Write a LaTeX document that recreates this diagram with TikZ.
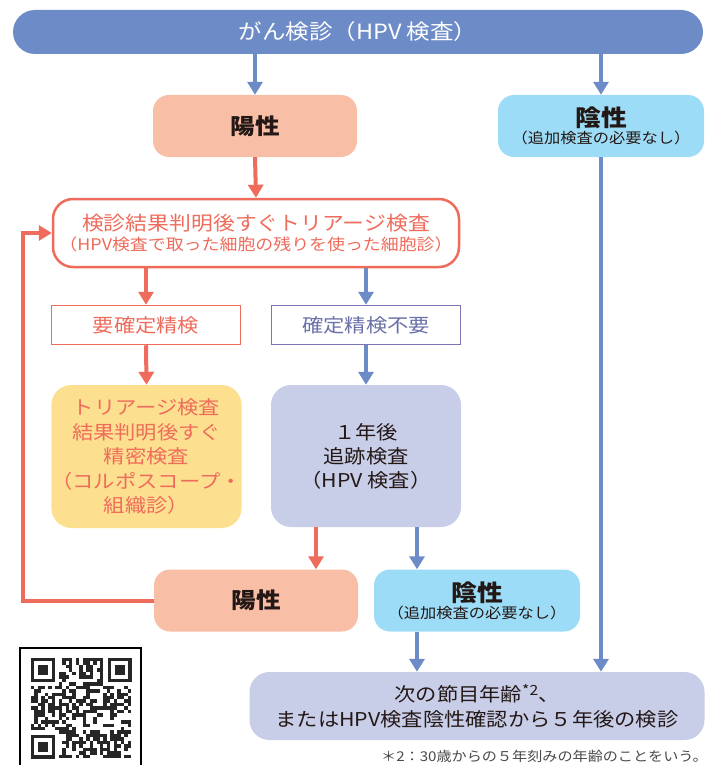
\documentclass[tikz,border=0pt]{standalone}
\usepackage{fontspec}
\setmainfont{Noto Sans CJK JP}[FakeStretch=1.12]
\usetikzlibrary{arrows.meta,calc}
\definecolor{cblue}{HTML}{6D8BC6}
\definecolor{cred}{HTML}{EF6B5B}
\definecolor{csalmon}{HTML}{F8BFA6}
\definecolor{ccyan}{HTML}{9DDCF6}
\definecolor{cyellow}{HTML}{FDE08F}
\definecolor{clav}{HTML}{C8CDE8}
\definecolor{cpurple}{HTML}{7D74B8}
\definecolor{cptext}{HTML}{6A70A8}
\definecolor{ctext}{HTML}{231815}
\definecolor{cnote}{HTML}{4A4A4A}
\newcommand{\fs}[2]{\fontsize{#1}{#2}\selectfont}
\begin{document}
\begin{tikzpicture}[x=1pt,y=-1pt,
  box/.style={align=center, inner sep=0pt, text=ctext},
  bar/.style={box, fill=cblue, rounded corners=22pt, minimum width=690pt, minimum height=44pt, text=white, font=\fs{21}{24}},
  posbox/.style={box, fill=csalmon, rounded corners=16pt, minimum width=204pt, minimum height=62pt, font=\fs{22}{24}\bfseries},
  negbox/.style={box, fill=ccyan, rounded corners=16pt, minimum width=206pt, minimum height=62pt},
  triagebox/.style={box, draw=cred, line width=2.5pt, fill=white, rounded corners=20pt, minimum width=406pt, minimum height=68pt, text=cred},
  redsq/.style={box, draw=cred, line width=1.5pt, fill=white, minimum width=189pt, minimum height=39pt, text=cred, font=\fs{19}{22}},
  bluesq/.style={box, draw=cpurple, line width=1.5pt, fill=white, minimum width=189pt, minimum height=39pt, text=cptext, font=\fs{19}{22}},
  yelbox/.style={box, fill=cyellow, rounded corners=20pt, minimum width=189pt, minimum height=143pt, text=cred, font=\fs{19}{24.5}},
  lavbox/.style={box, fill=clav, rounded corners=20pt, minimum width=190pt, minimum height=142pt, font=\fs{19}{24}},
  finbox/.style={box, fill=clav, rounded corners=20pt, minimum width=455pt, minimum height=68pt, font=\fs{19}{25}},
  bluearr/.style={draw=cblue, line width=4pt, -{Triangle[length=13pt,width=15pt]}},
  redarr/.style={draw=cred, line width=4pt, -{Triangle[length=13pt,width=15pt]}},
  qrmod/.style={fill=black!85}
]
\useasboundingbox (0,0) rectangle (718,765);

\node[bar] (top) at (358,32) {がん検診（HPV 検査）};
\node[posbox] (pos1) at (255,126) {陽性};
\node[negbox] (neg1) at (601,126) {{\fs{23}{24}\bfseries 陰性}\\[1pt]{\fs{14.5}{17}（追加検査の必要なし）}};
\node[triagebox] (tri) at (256,233) {{\fs{19.5}{22}検診結果判明後すぐトリアージ検査}\\[3pt]{\fs{16}{18}（HPV検査で取った細胞の残りを使った細胞診）}};
\node[redsq] (req) at (146,325) {要確定精検};
\node[bluesq] (noreq) at (366,325) {確定精検不要};
\node[yelbox] (yel) at (146.5,456.5) {トリアージ検査\\結果判明後すぐ\\精密検査\\（コルポスコープ・\\組織診）};
\node[lavbox] (lav) at (366,456) {１年後\\追跡検査\\（HPV 検査）};
\node[posbox] (pos2) at (256,600.5) {陽性};
\node[negbox] (neg2) at (477,600.5) {{\fs{23}{24}\bfseries 陰性}\\[1pt]{\fs{14.5}{17}（追加検査の必要なし）}};
\node[finbox] (fin) at (477,706) {次の節目年齢{\fs{14}{14}\raisebox{6pt}{*2}}、\\またはHPV検査陰性確認から５年後の検診};
\node[anchor=east, inner sep=0pt, text=cnote, font=\fs{13.5}{16}] (note) at (708,756) {＊2：30歳からの５年刻みの年齢のことをいう。};

% connectors
\draw[bluearr] (pos1.north |- top.south) -- (pos1.north);
\draw[bluearr] (neg1.north |- top.south) -- (neg1.north);
\draw[redarr] (pos1.south) -- (tri.north);
\draw[redarr] (req.north |- tri.south) -- (req.north);
\draw[bluearr] (noreq.north |- tri.south) -- (noreq.north);
\draw[redarr] (req.south) -- (yel.north);
\draw[bluearr] (noreq.south) -- (lav.north);
\coordinate (l1) at ($(lav.south)+(-50,0)$);
\coordinate (l2) at ($(lav.south)+(51,0)$);
\draw[redarr] (l1) -- (l1 |- pos2.north);
\draw[bluearr] (l2) -- (l2 |- neg2.north);
\draw[bluearr] (l2 |- neg2.south) -- (l2 |- fin.north);
\draw[bluearr] (neg1.south) -- (neg1.south |- fin.north);
\coordinate (lp) at (23,600.5);
\draw[redarr, line join=miter] (pos2.west) -- (lp) |- (tri.west);

% QR code
\draw[line width=2pt] (20,768) -- (20,648) -- (141,648) -- (141,768);
\pgfmathsetseed{11}
\foreach \i in {0,...,28}{\foreach \j in {0,...,28}{
  \pgfmathtruncatemacro\qskip{(((\i<8)&&(\j<8))||((\i>20)&&(\j<8))||((\i<8)&&(\j>20))) ? 1 : 0}
  \pgfmathtruncatemacro\qon{rnd<0.5 ? 1 : 0}
  \ifnum\qskip=0 \ifnum\qon=1 \fill[qrmod] (31+3.45*\i,658+3.45*\j) rectangle ++(3.45,3.45); \fi\fi
}}
\foreach \fx/\fy in {31/658, 107.6/658, 31/734.6}{
  \fill[qrmod] (\fx,\fy) rectangle ++(24.15,24.15);
  \fill[white] (\fx+3.45,\fy+3.45) rectangle ++(17.25,17.25);
  \fill[qrmod] (\fx+6.9,\fy+6.9) rectangle ++(10.35,10.35);
}
\end{tikzpicture}
\end{document}
